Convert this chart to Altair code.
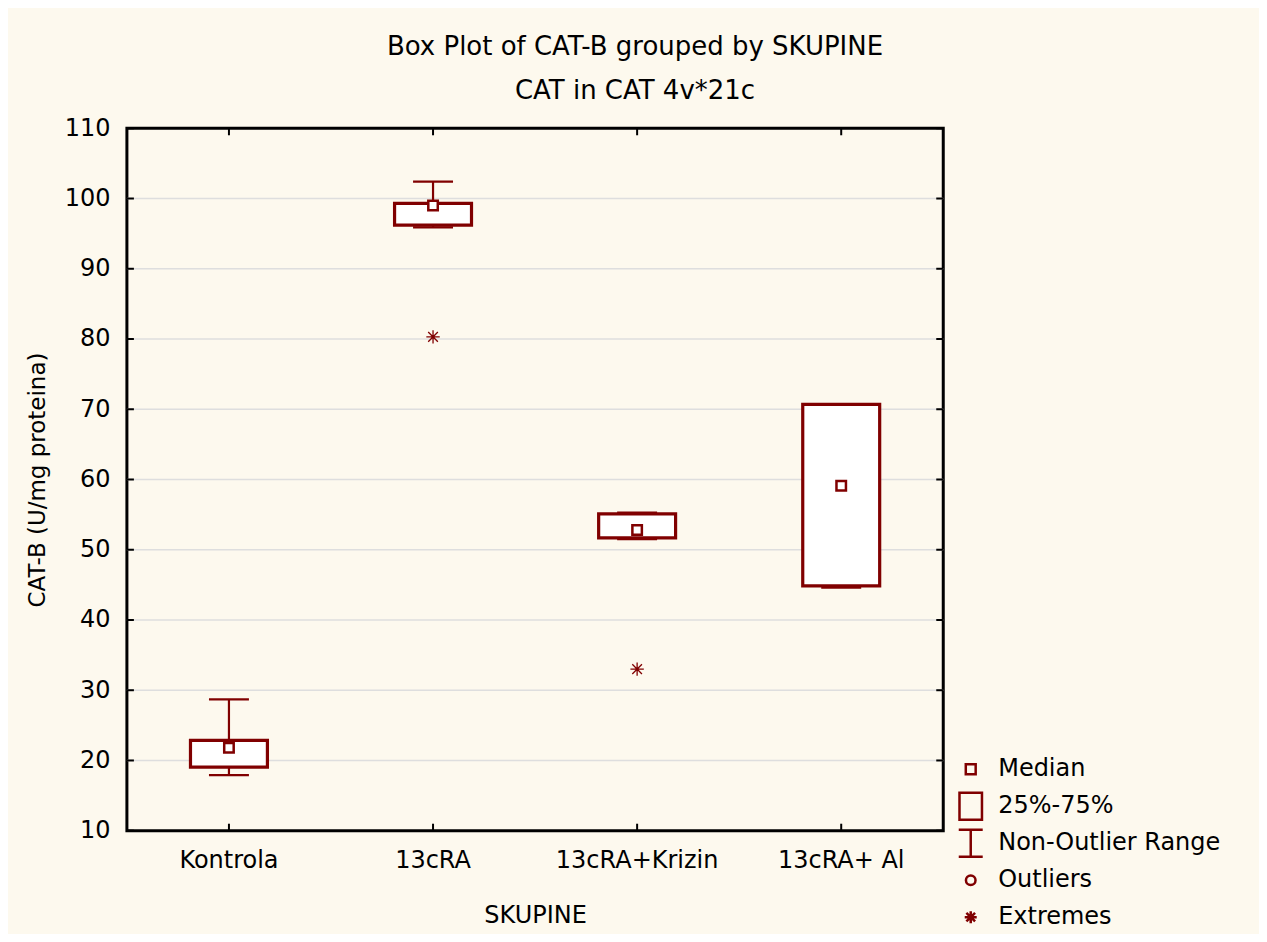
import altair as alt
import pandas as pd

# ---- data ----
groups = ["Kontrola", "13cRA", "13cRA+Krizin", "13cRA+ Al"]
whisker_low = [17.9, 95.9, 51.5, 44.6]
q1 = [19.06, 96.2, 51.7, 44.85]
median = [21.8, 99.0, 52.8, 59.1]
q3 = [22.85, 99.3, 55.1, 70.7]
whisker_high = [28.7, 102.4, 55.3, 70.7]

extreme_groups = ["13cRA", "13cRA+Krizin"]
extreme_values = [80.3, 33.0]

y_ticks = [10, 20, 30, 40, 50, 60, 70, 80, 90, 100, 110]
grid_values = [20, 30, 40, 50, 60, 70, 80, 90, 100]

legend_labels = ["Median", "25%-75%", "Non-Outlier Range", "Outliers", "Extremes"]

# ---- styles ----
DARK_RED = "#800000"
BG = "#FDF9EE"
FONT = "DejaVu Sans"
W, H = 817, 703

ASTERISK = "M0,-1L0,1M-1,0L1,0M-0.72,-0.72L0.72,0.72M-0.72,0.72L0.72,-0.72"
# every legend symbol gets the same (invisible) extent so rows are evenly spaced
EXTENT = "M-0.8,-0.9M0.8,0.9"
legend_paths = [
    EXTENT + "M-0.33,-0.33L0.33,-0.33L0.33,0.33L-0.33,0.33Z",
    EXTENT + "M-0.75,-0.9L0.75,-0.9L0.75,0.9L-0.75,0.9Z",
    EXTENT + "M-0.8,-0.9L0.8,-0.9M0,-0.9L0,0.9M-0.8,0.9L0.8,0.9",
    EXTENT + "M-0.32,0A0.32,0.32 0 1,0 0.32,0A0.32,0.32 0 1,0 -0.32,0Z",
    EXTENT + "M0,-0.4L0,0.4M-0.4,0L0.4,0M-0.29,-0.29L0.29,0.29M-0.29,0.29L0.29,-0.29",
]

box_df = pd.DataFrame({
    "grp": groups, "wlo": whisker_low, "q1": q1, "med": median,
    "q3": q3, "whi": whisker_high,
})
ext_df = pd.DataFrame({"grp": extreme_groups, "val": extreme_values})
tick_df = pd.DataFrame({"v": y_ticks})
grid_df = pd.DataFrame({"v": grid_values})
cat_df = pd.DataFrame({"grp": groups})
legend_df = pd.DataFrame({"item": legend_labels})

yscale = alt.Scale(domain=[10, 110], nice=False, zero=False)
xscale = alt.Scale(domain=groups, paddingInner=0, paddingOuter=0)

x_axis = alt.Axis(
    title="SKUPINE", labelAngle=0, labelFont=FONT, labelFontSize=24,
    labelColor="black", titleFont=FONT, titleFontSize=24,
    titleFontWeight="normal", titleColor="black", titlePadding=31,
    tickSize=0, labelPadding=18, domain=False, grid=False,
)
y_axis = alt.Axis(
    title="CAT-B (U/mg proteina)", values=y_ticks, labelFont=FONT,
    labelFontSize=24, labelColor="black", titleFont=FONT, titleFontSize=23,
    titleFontWeight="normal", titleColor="black", titlePadding=15,
    tickSize=0, labelPadding=17, domain=False, grid=False,
)


def X():
    return alt.X("grp:N", sort=groups, scale=xscale, axis=x_axis)


def Y(field):
    return alt.Y(field, type="quantitative", scale=yscale, axis=y_axis)


grid = alt.Chart(grid_df).mark_rule(color="#dedede", strokeWidth=1.5).encode(
    y=Y("v")
)

ticks_left = alt.Chart(tick_df).mark_rule(color="black", strokeWidth=2).encode(
    y=Y("v"), x=alt.value(0), x2=alt.value(7)
)
ticks_right = alt.Chart(tick_df).mark_rule(color="black", strokeWidth=2).encode(
    y=Y("v"), x=alt.value(W - 7), x2=alt.value(W)
)
ticks_top = alt.Chart(cat_df).mark_rule(color="black", strokeWidth=2).encode(
    x=X(), y=alt.value(0), y2=alt.value(7)
)
ticks_bottom = alt.Chart(cat_df).mark_rule(color="black", strokeWidth=2).encode(
    x=X(), y=alt.value(H - 7), y2=alt.value(H)
)

whisker = alt.Chart(box_df).mark_rule(
    color=DARK_RED, strokeWidth=2.2, opacity=1
).encode(x=X(), y=Y("wlo"), y2="whi")
cap_hi = alt.Chart(box_df).mark_tick(
    color=DARK_RED, thickness=2.2, size=40, opacity=1
).encode(x=X(), y=Y("whi"))
cap_lo = alt.Chart(box_df).mark_tick(
    color=DARK_RED, thickness=2.2, size=40, opacity=1
).encode(x=X(), y=Y("wlo"))
box = alt.Chart(box_df).mark_bar(
    fill="white", stroke=DARK_RED, strokeWidth=3.2, size=77, opacity=1
).encode(x=X(), y=Y("q1"), y2="q3")
med = alt.Chart(box_df).mark_square(
    fill="white", stroke=DARK_RED, strokeWidth=2.5, size=90, opacity=1,
    filled=True
).encode(x=X(), y=Y("med"))
extremes = alt.Chart(ext_df).mark_point(
    shape=ASTERISK, color=DARK_RED, strokeWidth=1.3, size=180, filled=False,
    opacity=1
).encode(x=X(), y=Y("val"))

legend_layer = alt.Chart(legend_df).mark_point(
    opacity=0, size=900, filled=False, color=DARK_RED
).encode(
    shape=alt.Shape(
        "item:N",
        scale=alt.Scale(domain=legend_labels, range=legend_paths),
        sort=legend_labels,
        legend=alt.Legend(
            title=None, orient="none", legendX=828, legendY=625,
            symbolSize=900, symbolStrokeColor=DARK_RED,
            symbolFillColor="transparent", symbolStrokeWidth=2.5,
            symbolOpacity=1, labelFont=FONT, labelFontSize=24,
            labelColor="black", labelLimit=400, rowPadding=0,
            labelOffset=11, padding=0,
        ),
    )
)

chart = alt.layer(
    grid, whisker, cap_hi, cap_lo, box, med, extremes,
    ticks_left, ticks_right, ticks_top, ticks_bottom, legend_layer,
).properties(
    width=W, height=H,
    title=alt.TitleParams(
        ["Box Plot of CAT-B grouped by  SKUPINE", "CAT in CAT 4v*21c"],
        font=FONT, fontSize=26, fontWeight="normal", color="black",
        lineHeight=44, offset=12, anchor="middle", frame="group", dx=100,
    ),
    autosize=alt.AutoSizeParams(type="none"),
    padding={"left": 119, "top": 120, "right": 316, "bottom": 103},
    background=BG,
).configure_view(
    fill="white", stroke="black", strokeWidth=3
)

chart.save("out.html", embed_options={"renderer": "svg", "actions": False})
